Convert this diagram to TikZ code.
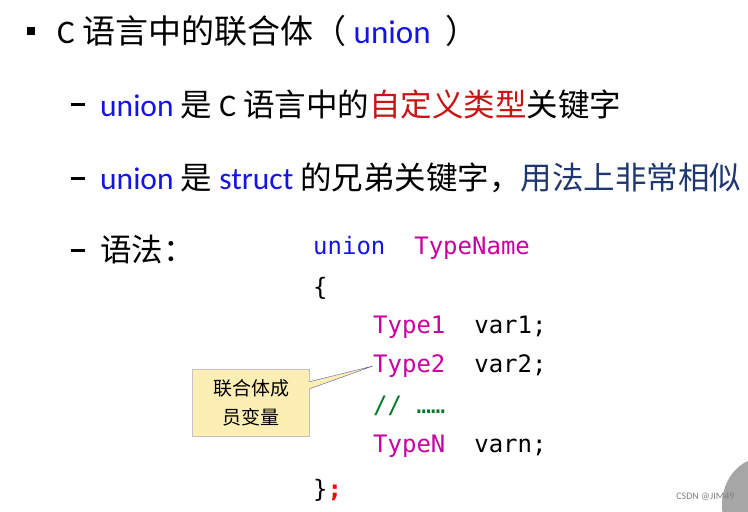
\documentclass[tikz,border=0pt]{standalone}
\usepackage{fontspec}
\setmainfont{Carlito}
\newfontfamily\cjk{Noto Sans CJK SC}
\setmonofont{DejaVu Sans Mono}
\usetikzlibrary{positioning,calc,shapes.callouts}
\definecolor{kwblue}{RGB}{20,20,230}
\definecolor{kwred}{RGB}{200,20,20}
\definecolor{kwpink}{RGB}{200,0,160}
\definecolor{hlblue}{RGB}{30,55,110}
\definecolor{cmtgreen}{RGB}{0,120,40}
\definecolor{notefill}{RGB}{253,238,180}
\tikzset{
  line text/.style={anchor=west,inner sep=0pt,font=\fontsize{33}{35}\selectfont},
  sub text/.style={anchor=west,inner sep=0pt,font=\fontsize{31.5}{33}\selectfont},
  dash text/.style={anchor=west,inner sep=0pt},
  code text/.style={anchor=west,inner sep=0pt,font=\ttfamily\fontsize{24}{26}\selectfont},
  my note/.style={rectangle callout,draw=gray!70!blue,fill=notefill,
    minimum width=117pt,minimum height=67pt,align=center,
    font=\cjk\fontsize{19}{29}\selectfont}
}
\begin{document}
\begin{tikzpicture}[x=1pt,y=-1pt]
\useasboundingbox (0,0) rectangle (748,512);
% title line
\node[fill=black,minimum size=8pt,inner sep=0pt] (sq) at (31,31) {};
\node[line text] (title) at (57,31) {C {\cjk 语言中的联合体（}\ \textcolor{kwblue}{union}\ \ {\cjk ）}};
% sub lines
\node[dash text] (d1) at (71,104) {\rule{14pt}{3pt}};
\node[sub text] (l1) at (100,104) {\textcolor{kwblue}{union} {\cjk 是} C {\cjk 语言中的\textcolor{kwred}{自定义类型}关键字}};
\node[dash text] (d2) at (71,178) {\rule{14pt}{3pt}};
\node[sub text] (l2) at (100,178) {\textcolor{kwblue}{union} {\cjk 是} \textcolor{kwblue}{struct} {\cjk 的兄弟关键字，\textcolor{hlblue}{用法上非常相似}}};
\node[dash text] (d3) at (71,250) {\rule{14pt}{3pt}};
\node[sub text] (l3) at (100,250) {\cjk 语法：};
% code
\node[code text] (c1) at (313,248) {\textcolor{kwblue}{union}\ \ \textcolor{kwpink}{TypeName}};
\node[code text] (c2) at (313,288) {\{};
\node[code text] (c3) at (373,327) {\textcolor{kwpink}{Type1}\ \ var1;};
\node[code text] (c4) at (373,366) {\textcolor{kwpink}{Type2}\ \ var2;};
\node[code text] (c5) at (373,406) {\textcolor{cmtgreen}{// ……}};
\node[code text] (c6) at (373,446) {\textcolor{kwpink}{TypeN}\ \ varn;};
\node[code text] (c7) at (313,490) {\}\textcolor{red}{\bfseries ;}};
% note
\node[my note,callout absolute pointer={(c4.west)}] (note) at (251,403) {联合体成\\员变量};
% corner
\fill[gray!70] (762,505) ellipse[x radius=40,y radius=47];
\node[anchor=east,text=gray,font=\fontsize{10}{11}\selectfont] (mark) at (738,497) {CSDN @JIM49};
\end{tikzpicture}
\end{document}
